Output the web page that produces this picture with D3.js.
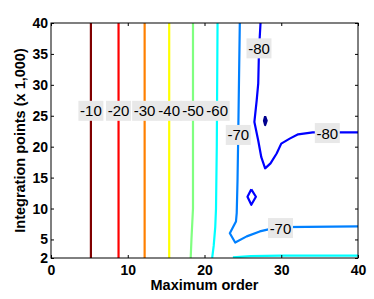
<!DOCTYPE html>
<html><head><meta charset="utf-8">
<script src="https://cdn.jsdelivr.net/npm/d3@7"></script>
<style>body{margin:0;background:#fff}svg{display:block}</style>
</head><body>
<script>
// ---- data ----
const xTicks = [0, 10, 20, 30, 40];
const yTicks = [2, 5, 10, 15, 20, 25, 30, 35, 40];
const levelNames = ["-10","-20","-30","-40","-50","-60","-60b","-70","-80","-80diamond","-90"];
const c10 = [[5.2,2],[5.2,40]];
const c20 = [[8.8,2],[8.8,40]];
const c30 = [[12.2,2],[12.2,40]];
const c40 = [[15.4,2],[15.4,40]];
const c50 = [[18.2,2],[18.3,5],[18.5,10],[18.5,40]];
const c60 = [[21.0,2],[21.2,4],[21.4,7],[21.5,10],[21.6,20],[21.7,40]];
const c60b = [[23.7,2.1],[26,2.3],[30,2.4],[40,2.4]];
const c70 = [[24.6,40],[24.4,22.2],[24.3,14.4],[24.2,9.3],[24.1,7.9],[23.3,6.0],[24.0,4.5],[25.5,5.5],[27.2,6.3],[28.9,6.8],[30,7.0],[40,7.1]];
const c80 = [[27.3,40],[27.1,35.6],[27.0,30.2],[26.8,27.5],[26.5,24.0],[27.0,21.0],[27.4,18.3],[27.9,16.5],[28.6,17.3],[29.4,18.9],[30.0,20.5],[31.1,21.3],[32.2,22.0],[34.1,22.3],[40,22.3]];
const c80d = [[26.1,13.1],[26.7,11.9],[26.1,10.6],[25.6,11.9],[26.1,13.1]];
const c90 = [[27.9,24.9],[28.1,24.2],[27.9,23.5],[27.75,24.2],[27.9,24.9]];
const labelText = ["-10","-20","-30","-40","-50","-60","-70","-80","-80","-70"];
const labelX = [5.2, 8.8, 12.2, 15.4, 18.5, 21.65, 24.4, 27.1, 36.0, 29.9];
const labelY = [25.8, 25.8, 25.8, 25.8, 25.8, 25.8, 21.9, 35.9, 22.2, 6.84];

// ---- style ----
const lineColors = {"-10":"#800000","-20":"#ff0000","-30":"#ff8000","-40":"#ffff00","-50":"#80ff80","-60":"#00ffff","-60b":"#00ffff","-70":"#0080ff","-80":"#0000ff","-80diamond":"#0000ff","-90":"#00008f"};
const lineData = {"-10":c10,"-20":c20,"-30":c30,"-40":c40,"-50":c50,"-60":c60,"-60b":c60b,"-70":c70,"-80":c80,"-80diamond":c80d,"-90":c90};

const W = 374, H = 299;
const m = {l: 51, r: 16, t: 23, b: 41};
const svg = d3.select("body").append("svg").attr("width", W).attr("height", H);
const x = d3.scaleLinear().domain([0, 40]).range([m.l, W - m.r]);
const y = d3.scaleLinear().domain([2, 40]).range([H - m.b, m.t]);

svg.append("clipPath").attr("id","clip").append("rect")
  .attr("x", m.l).attr("y", m.t).attr("width", W - m.r - m.l).attr("height", H - m.b - m.t);

const line = d3.line().x(d => x(d[0])).y(d => y(d[1]));
const g = svg.append("g").attr("clip-path","url(#clip)");
levelNames.forEach(k => {
  g.append("path").attr("d", line(lineData[k]))
    .attr("fill", k === "-90" ? lineColors[k] : "none")
    .attr("stroke", lineColors[k]).attr("stroke-width", 2.2)
    .attr("stroke-linejoin","round");
});

// labels
const font = "Liberation Sans, Arial, Helvetica, sans-serif";
labelText.forEach((t, i) => {
  const cx = x(labelX[i]), cy = y(labelY[i]);
  svg.append("rect").attr("x", cx - 12.5).attr("y", cy - 10).attr("width", 25).attr("height", 20)
    .attr("fill", "#e8e8e8");
  svg.append("text").attr("x", cx).attr("y", cy + 5.5).attr("text-anchor","middle")
    .attr("font-family", font).attr("font-size", 15).attr("fill","#000").text(t);
});

// axes
const tl = 3;
const axB = d3.axisBottom(x).tickValues(xTicks).tickSize(-tl).tickPadding(7);
const axT = d3.axisTop(x).tickValues(xTicks).tickSize(-tl).tickFormat("");
const axL = d3.axisLeft(y).tickValues(yTicks).tickSize(-tl).tickPadding(3);
const axR = d3.axisRight(y).tickValues(yTicks).tickSize(-tl).tickFormat("");
function style(sel){
  sel.select(".domain").remove();
  sel.selectAll("line").attr("stroke","#000").attr("stroke-width",1);
  sel.selectAll("text").attr("font-family", font).attr("font-size", 14).attr("font-weight","bold").attr("fill","#000");
}
svg.append("g").attr("transform",`translate(0,${H-m.b})`).call(axB).call(style);
svg.append("g").attr("transform",`translate(0,${m.t})`).call(axT).call(style);
svg.append("g").attr("transform",`translate(${m.l},0)`).call(axL).call(style);
svg.append("g").attr("transform",`translate(${W-m.r},0)`).call(axR).call(style);
svg.append("rect").attr("x", m.l).attr("y", m.t).attr("width", W-m.r-m.l).attr("height", H-m.b-m.t)
  .attr("fill","none").attr("stroke","#000").attr("stroke-width",1);

svg.append("text").attr("x", (m.l + W - m.r)/2).attr("y", 290).attr("text-anchor","middle")
  .attr("font-family", font).attr("font-size", 14.5).attr("font-weight","bold").text("Maximum order");
svg.append("text").attr("transform", `translate(25,${(m.t + H - m.b)/2}) rotate(-90)`).attr("text-anchor","middle")
  .attr("font-family", font).attr("font-size", 14.5).attr("font-weight","bold").text("Integration points (x 1,000)");
</script>
</body></html>
